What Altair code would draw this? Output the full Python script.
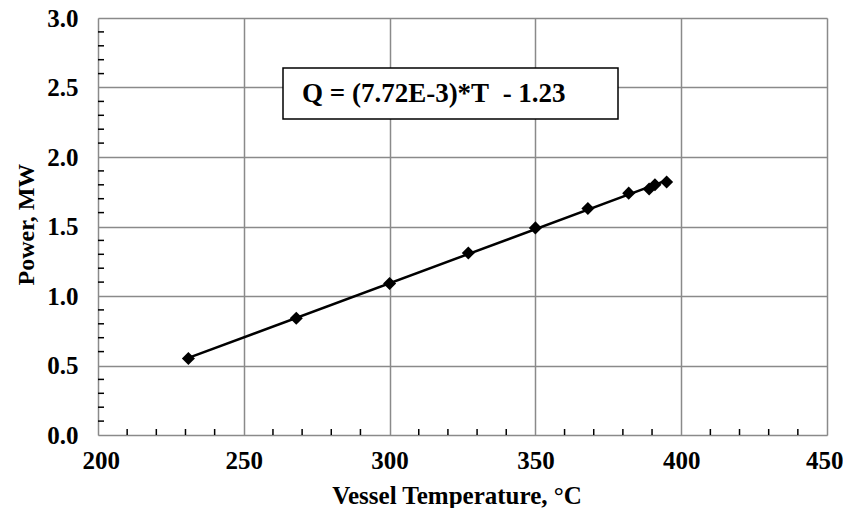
import altair as alt
import pandas as pd

temps = [231, 268, 300, 327, 350, 368, 382, 389, 391, 395]
power = [0.55, 0.84, 1.09, 1.31, 1.49, 1.63, 1.74, 1.77, 1.80, 1.82]

x_major = [200, 250, 300, 350, 400, 450]
y_major = [0.0, 0.5, 1.0, 1.5, 2.0, 2.5, 3.0]
x_minor = [v for v in range(210, 450, 10) if v % 50 != 0]
y_minor = [round(i / 10, 1) for i in range(1, 30) if i % 5 != 0]

equation = "Q = (7.72E-3)*T\u00a0 - 1.23"

W, H = 729, 417
FONT = "Liberation Serif"

df = pd.DataFrame({"T": temps, "Q": power})
dfx = pd.DataFrame({"v": x_minor})
dfy = pd.DataFrame({"v": y_minor})

xs = alt.Scale(domain=[200, 450], nice=False, zero=False)
ys = alt.Scale(domain=[0, 3], nice=False, zero=False)

xaxis = alt.Axis(values=x_major, format="d", title="Vessel Temperature, °C",
                 grid=True, gridColor="#8a8a8a", gridWidth=1.5,
                 ticks=False, tickSize=0, domain=False,
                 labelFlush=True, labelFlushOffset=16, labelOverlap=False,
                 labelFont=FONT, labelFontSize=25, labelFontWeight="bold", labelColor="black",
                 labelPadding=13,
                 titleFont=FONT, titleFontSize=25, titleFontWeight="bold", titleColor="black",
                 titleX=W / 2 - 6, titleY=68, titleBaseline="alphabetic")
yaxis = alt.Axis(values=y_major, format=".1f", title="Power, MW",
                 grid=True, gridColor="#8a8a8a", gridWidth=1.5,
                 ticks=False, tickSize=0, domain=False,
                 labelFlush=False, labelOverlap=False,
                 labelFont=FONT, labelFontSize=25, labelFontWeight="bold", labelColor="black",
                 labelPadding=20,
                 titleFont=FONT, titleFontSize=24, titleFontWeight="bold", titleColor="black",
                 titleX=-65, titleY=206, titleBaseline="alphabetic")

base = alt.Chart(df)

line = base.transform_regression("T", "Q").mark_line(color="black", strokeWidth=2.5).encode(
    x=alt.X("T:Q", scale=xs, axis=xaxis),
    y=alt.Y("Q:Q", scale=ys, axis=yaxis),
)
pts = base.mark_point(shape="diamond", filled=True, color="black", size=170, opacity=1).encode(
    x=alt.X("T:Q", scale=xs),
    y=alt.Y("Q:Q", scale=ys),
)

xt = alt.Chart(dfx).mark_rule(color="black", strokeWidth=1.5).encode(
    x=alt.X("v:Q", scale=xs), y=alt.value(H), y2=alt.value(H - 6))
yt = alt.Chart(dfy).mark_rule(color="black", strokeWidth=1.5).encode(
    y=alt.Y("v:Q", scale=ys), x=alt.value(0), x2=alt.value(6))

box = alt.Chart(pd.DataFrame({"t": [equation]})).mark_rect(
    fill="white", stroke="black", strokeWidth=1.5).encode(
    x=alt.value(185), x2=alt.value(520), y=alt.value(50), y2=alt.value(101))
txt = alt.Chart(pd.DataFrame({"t": [equation]})).mark_text(
    font=FONT, fontSize=27, fontWeight="bold", color="black", align="left", baseline="middle").encode(
    x=alt.value(204), y=alt.value(76), text="t:N")

chart = alt.layer(box, txt, xt, yt, line, pts).properties(
    width=W, height=H,
    autosize=alt.AutoSizeParams(type="none"),
    padding={"left": 90, "top": 10, "right": 16, "bottom": 73},
).configure_view(stroke="black", strokeWidth=2.5).configure(background="white")

chart.save("out.html", embed_options={"renderer": "svg", "actions": False})
